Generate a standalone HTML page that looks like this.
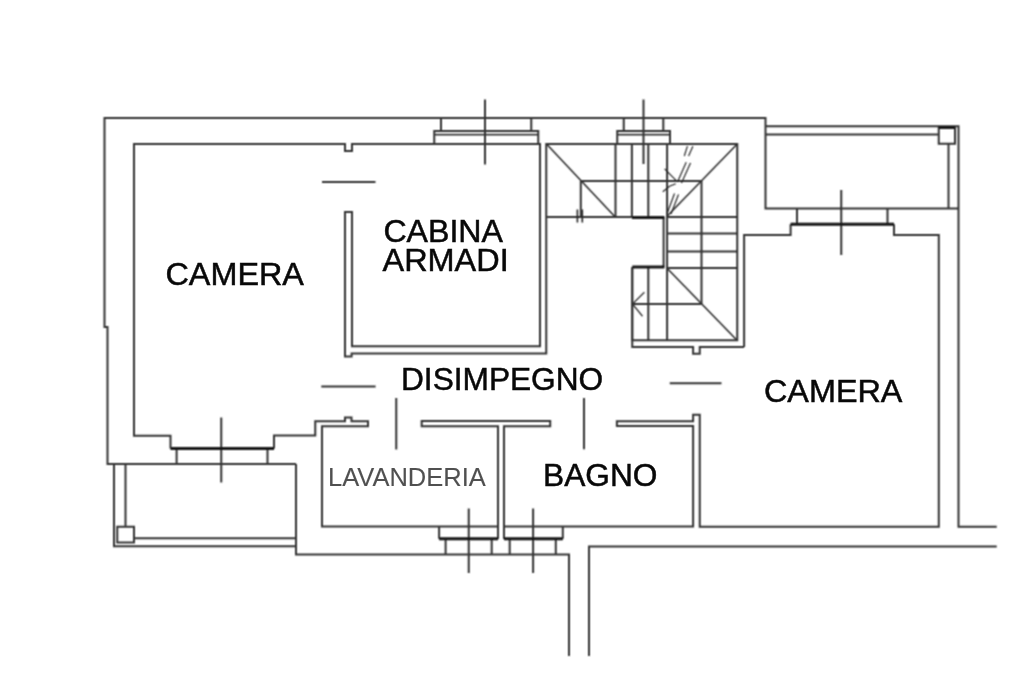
<!DOCTYPE html>
<html><head><meta charset="utf-8">
<style>
html,body{margin:0;padding:0;background:#fff;}
svg{display:block;will-change:transform;}
text{font-family:"Liberation Sans",sans-serif;}
</style></head>
<body>
<svg width="1024" height="682" viewBox="0 0 1024 682">
<defs><filter id="bl" x="0" y="0" width="1024" height="682" filterUnits="userSpaceOnUse"><feConvolveMatrix order="3" kernelMatrix="1 2 1 2 4 2 1 2 1" divisor="16" edgeMode="duplicate"/></filter></defs>
<rect width="1024" height="682" fill="#fff"/>
<g filter="url(#bl)">
<g fill="none" stroke="#333" stroke-width="2" stroke-linejoin="miter" stroke-linecap="butt">
<!-- outer walls -->
<path d="M296 464 H107.5 V327 H104.5 V118 H765.5 V208.5 H958.5"/>
<path d="M765.5 126.25 H958.5 V526.75 H996.75"/>
<path d="M765.5 134.5 H938.75"/>
<rect x="938.75" y="127" width="16.25" height="16.75"/>
<path d="M948.5 143.75 V208.5"/>
<path d="M797 208.5 V224 M887.5 208.5 V224"/>
<path d="M744.1 347 V235 H790.6 V224.3 M894 224.3 V235 H938.8 V526.75 H699.75 V414.75 H693.1 V421.25 H616.9 V426 H693.1 V526.5 H504 V426.25 H550.2 V421.1 H421.7 V426.25 H498 V526.5 H322 V426.25 H368 V421.25 H351.5 V417.5 H345 V421.25 H315.25 V435.6 H274 V448.5"/>
<path d="M170.5 448.5 V435.75 H134 V144 H345 V151 H352 V144 H540 V346.25 H352 V212 H345 V356.6 H351.6 V353.4 H546.25 V144 H737.25 V340.25 H632.25 V267.25"/>
<!-- windows top -->
<path d="M434.25 144 V131 H538.25 V144 M441 118 V131 M531.25 118 V131"/>
<path d="M434.25 134.6 H538.25" stroke-width="1.6"/>
<path d="M617.25 144 V131 H670 V144 M623.75 118 V131 M663.3 118 V131"/>
<path d="M617.25 134.6 H670" stroke-width="1.6"/>
<!-- crosses -->
<path d="M485 99.5 V164.5 M643.5 99.5 V164.1 M841.25 190 V255 M221.25 417.6 V482.6 M468.75 508.5 V573 M533.1 508.5 V573"/>
<!-- bottom-left window posts -->
<path d="M176.6 448.5 V464 M267.5 448.5 V464"/>
<!-- bottom -->
<path d="M296 464 V554.5 H569 V656 M589 656 V546.5 H996.75"/>
<!-- balcony -->
<path d="M114 464 V546.25 H296 M125.5 464 V526.75 M134 538.25 H296"/>
<rect x="117.25" y="526.75" width="16.75" height="15.75"/>
<!-- lav/bagno windows -->
<path d="M498 426.25 V539 M504 426.25 V539 M439.1 526.5 V538.75 M562.8 526.5 V538.75 M445.6 539 V554.5 M491.7 539 V554.5 M509.7 539 V554.5 M555.8 539 V554.5"/>
<!-- door lines -->
<path d="M322 182 H375.5 M321.25 386.5 H375.6 M396.25 398 V449.5 M584 398 V449.25 M669.75 383.25 H721.5"/>
<!-- stairs -->
<path d="M580.8 181 H701.9 M580.8 181 V216.9 M546.25 216.9 H631.9 M615.5 144 V216.9 M631.9 144 V217 M648.3 144 V217 M667.1 144 V340.25 M663.6 217 V267.25 M701.5 181 V304 M666.8 216.9 H737.25 M666.8 233.4 H737.25 M666.8 251.5 H737.25 M666.8 267.9 H737.25 M632.25 304 H701.5 M648.3 267.25 V340.25 M632.25 267.25 V347 H693.1 V353.75 H699.75 V347 H744.1"/>
<path d="M644.4 292.25 L632.5 304 L642.5 316.25" stroke-width="1.3"/>
<path d="M546.5 144 L614.75 216.5 M737.25 144 L666.8 216.5 M666.8 268 L737 340.25" stroke-width="1.7"/>
</g>
<g fill="none" stroke="#222" stroke-width="1.15">
<path d="M687.4 146.2 L684.3 156 M692.9 146.2 L688.6 156"/>
<path d="M686.2 162.2 L677.5 182 M690.5 163 L681.5 183"/>
<path d="M664.6 168.9 L676.3 180.6 M662.8 191.7 L669.5 186.2 L675.7 183.7"/>
<path d="M674.5 193.5 L667 213.8 M678.5 194.5 L671 214"/>
<path d="M577.4 209.5 V222.4 M582.3 209.5 V222.4" stroke-width="1.6"/>
</g>
<g fill="none" stroke="#151515" stroke-width="3">
<path d="M170.5 448.5 H274 M790.6 224.3 H894 M439.1 538.75 H498 M504 538.75 H562.8 M631.9 217.6 H664.4 M632.25 267.1 H664.4 M938.75 127.5 H955"/>
</g>
</g>
<g fill="#080808" stroke="#080808" stroke-width="0.5">
<text x="165.5" y="284.7" font-size="32" textLength="138.4" lengthAdjust="spacingAndGlyphs">CAMERA</text>
<text x="383.4" y="241.5" font-size="32" textLength="119.6" lengthAdjust="spacingAndGlyphs">CABINA</text>
<text x="382.5" y="271.2" font-size="32" textLength="126.2" lengthAdjust="spacingAndGlyphs">ARMADI</text>
<text x="401" y="390" font-size="32" textLength="202.2" lengthAdjust="spacingAndGlyphs">DISIMPEGNO</text>
<text x="764" y="401.6" font-size="32" textLength="138.4" lengthAdjust="spacingAndGlyphs">CAMERA</text>
<text x="543" y="485.75" font-size="32" textLength="114.5" lengthAdjust="spacingAndGlyphs">BAGNO</text>
</g>
<text x="328" y="485.75" font-size="25.5" fill="#505050" stroke="#505050" stroke-width="0.1">LAVANDERIA</text>
</svg>
</body></html>
